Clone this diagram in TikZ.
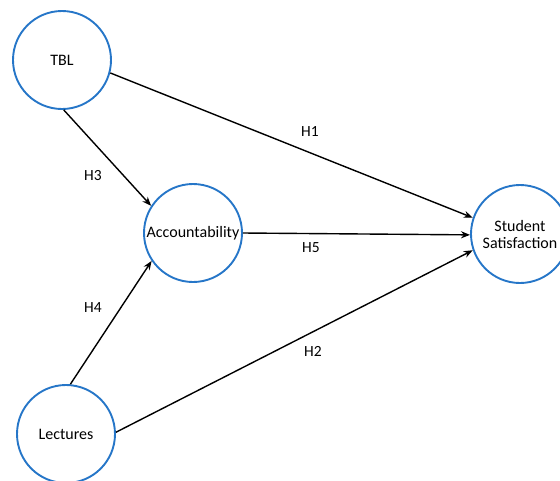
\documentclass[tikz,border=0pt]{standalone}
\usepackage{fontspec}
\setmainfont{Carlito}
\usetikzlibrary{arrows.meta}
\definecolor{cblue}{RGB}{38,118,200}
\begin{document}
\begin{tikzpicture}[x=1pt,y=-1pt,
  var/.style={circle,draw=cblue,line width=1.9pt,minimum size=98pt,inner sep=0pt,font=\fontsize{16}{18}\selectfont,align=center},
  link/.style={line width=1.4pt,-{Stealth[length=9pt,width=7pt]}},
  hlab/.style={font=\fontsize{15.5}{17}\selectfont}]
\useasboundingbox (0,0) rectangle (560,480);
\clip (0,0) rectangle (560,480);
\node[var] (tbl) at (62,60) {TBL};
\node[var] (acc) at (193,233) {Accountability};
\node[var] (ss) at (520,234) {Student\\[-1pt]Satisfaction};
\node[var] (lec) at (66,434) {Lectures};
\draw[link] (tbl.-15) -- (ss.161);
\draw[link] (tbl.-88) -- (acc.147);
\draw[link] (acc.0) -- (ss.181);
\draw[link] (lec.85) -- (acc.214);
\draw[link] (lec.2) -- (ss.199);
\node[hlab] (h1) at (310,132) {H1};
\node[hlab] (h3) at (93,176) {H3};
\node[hlab] (h5) at (311,248) {H5};
\node[hlab] (h4) at (93,308) {H4};
\node[hlab] (h2) at (313,351) {H2};
\end{tikzpicture}
\end{document}
